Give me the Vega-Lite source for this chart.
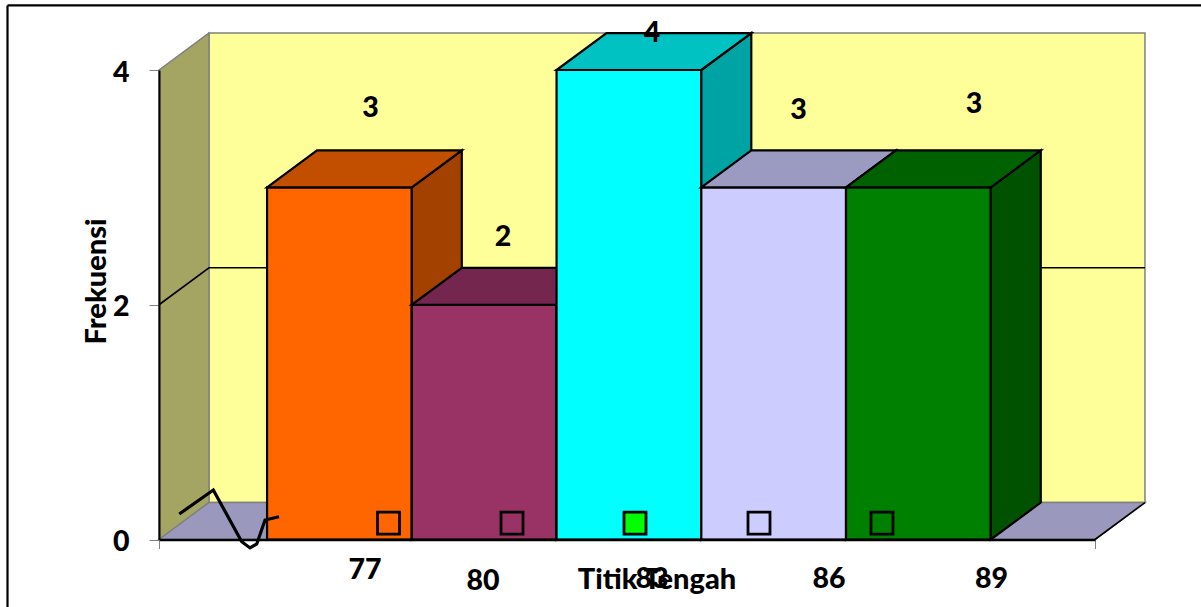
{
  "$schema": "https://vega.github.io/schema/vega-lite/v6.json",
  "width": 936,
  "height": 469.5,
  "autosize": "none",
  "padding": {"left": 159, "top": 70, "right": 106, "bottom": 67.5},
  "background": "white",
  "config": {
    "view": {"stroke": null},
    "text": {"font": "Lato", "fontWeight": 900, "fontSize": 28.5, "color": "black", "baseline": "middle", "dy": 1.5}
  },
  "resolve": {"scale": {"fill": "independent"}},
  "datasets": {
    "kerangka": [
      {"muka": "dinding", "x": 74.296, "y": 4.315, "y2": 0.315},
      {"muka": "dinding", "x": 93.696, "y": 4.315, "y2": 0.315},
      {"muka": "sisi", "x": 73.26, "y": 4, "y2": 0},
      {"muka": "sisi", "x": 74.296, "y": 4.315, "y2": 0.315},
      {"muka": "lantai", "x": 73.26, "y": 0, "y2": 0},
      {"muka": "lantai", "x": 74.296, "y": 0.315, "y2": 0},
      {"muka": "lantai", "x": 92.66, "y": 0.315, "y2": 0},
      {"muka": "lantai", "x": 93.696, "y": 0.315, "y2": 0.315}
    ],
    "garis": [
      {"garis": "kisi", "x": 73.26, "y": 2},
      {"garis": "kisi", "x": 74.296, "y": 2.315},
      {"garis": "kisi", "x": 93.696, "y": 2.315},
      {"garis": "tepi", "x": 92.66, "y": 0},
      {"garis": "tepi", "x": 93.696, "y": 0.315}
    ],
    "batang": [
      {"muka": "77 depan", "x": 75.5, "y": 3, "y2": 0},
      {"muka": "77 depan", "x": 78.5, "y": 3, "y2": 0},
      {"muka": "77 samping", "x": 78.5, "y": 3, "y2": 0},
      {"muka": "77 samping", "x": 79.536, "y": 3.315, "y2": 0.315},
      {"muka": "77 atas", "x": 75.5, "y": 3, "y2": 3},
      {"muka": "77 atas", "x": 76.536, "y": 3.315, "y2": 3},
      {"muka": "77 atas", "x": 78.5, "y": 3.315, "y2": 3},
      {"muka": "77 atas", "x": 79.536, "y": 3.315, "y2": 3.315},

      {"muka": "80 depan", "x": 78.5, "y": 2, "y2": 0},
      {"muka": "80 depan", "x": 81.5, "y": 2, "y2": 0},
      {"muka": "80 samping", "x": 81.5, "y": 2, "y2": 0},
      {"muka": "80 samping", "x": 82.536, "y": 2.315, "y2": 0.315},
      {"muka": "80 atas", "x": 78.5, "y": 2, "y2": 2},
      {"muka": "80 atas", "x": 79.536, "y": 2.315, "y2": 2},
      {"muka": "80 atas", "x": 81.5, "y": 2.315, "y2": 2},
      {"muka": "80 atas", "x": 82.536, "y": 2.315, "y2": 2.315},

      {"muka": "83 depan", "x": 81.5, "y": 4, "y2": 0},
      {"muka": "83 depan", "x": 84.5, "y": 4, "y2": 0},
      {"muka": "83 samping", "x": 84.5, "y": 4, "y2": 0},
      {"muka": "83 samping", "x": 85.536, "y": 4.315, "y2": 0.315},
      {"muka": "83 atas", "x": 81.5, "y": 4, "y2": 4},
      {"muka": "83 atas", "x": 82.536, "y": 4.315, "y2": 4},
      {"muka": "83 atas", "x": 84.5, "y": 4.315, "y2": 4},
      {"muka": "83 atas", "x": 85.536, "y": 4.315, "y2": 4.315},

      {"muka": "86 depan", "x": 84.5, "y": 3, "y2": 0},
      {"muka": "86 depan", "x": 87.5, "y": 3, "y2": 0},
      {"muka": "86 samping", "x": 87.5, "y": 3, "y2": 0},
      {"muka": "86 samping", "x": 88.536, "y": 3.315, "y2": 0.315},
      {"muka": "86 atas", "x": 84.5, "y": 3, "y2": 3},
      {"muka": "86 atas", "x": 85.536, "y": 3.315, "y2": 3},
      {"muka": "86 atas", "x": 87.5, "y": 3.315, "y2": 3},
      {"muka": "86 atas", "x": 88.536, "y": 3.315, "y2": 3.315},

      {"muka": "89 depan", "x": 87.5, "y": 3, "y2": 0},
      {"muka": "89 depan", "x": 90.5, "y": 3, "y2": 0},
      {"muka": "89 samping", "x": 90.5, "y": 3, "y2": 0},
      {"muka": "89 samping", "x": 91.536, "y": 3.315, "y2": 0.315},
      {"muka": "89 atas", "x": 87.5, "y": 3, "y2": 3},
      {"muka": "89 atas", "x": 88.536, "y": 3.315, "y2": 3},
      {"muka": "89 atas", "x": 90.5, "y": 3.315, "y2": 3},
      {"muka": "89 atas", "x": 91.536, "y": 3.315, "y2": 3.315}
    ],
    "tanda": [
      {"tanda": "kosong", "x": 78.017, "y": 0.14},
      {"tanda": "kosong", "x": 80.577, "y": 0.14},
      {"tanda": "hijau", "x": 83.126, "y": 0.14},
      {"tanda": "kosong", "x": 85.696, "y": 0.14},
      {"tanda": "kosong", "x": 88.245, "y": 0.14}
    ],
    "coretan": [
      {"x": 73.68, "y": 0.217},
      {"x": 74.386, "y": 0.422},
      {"x": 74.975, "y": -0.019},
      {"x": 75.147, "y": -0.072},
      {"x": 75.286, "y": -0.038},
      {"x": 75.458, "y": 0.166},
      {"x": 75.748, "y": 0.194}
    ],
    "bingkai": [
      {"x": 70.12, "x2": 70.12, "y": -0.575, "y2": 4.55},
      {"x": 70.12, "x2": 94.86, "y": 4.55, "y2": 4.55}
    ],
    "teks": [
      {"label": "77", "x": 77.53, "y": -0.243},
      {"label": "80", "x": 79.975, "y": -0.337},
      {"label": "83", "x": 83.478, "y": -0.328},
      {"label": "86", "x": 87.146, "y": -0.328},
      {"label": "89", "x": 90.514, "y": -0.328},
      {"label": "3", "x": 77.644, "y": 3.693},
      {"label": "2", "x": 80.39, "y": 2.594},
      {"label": "4", "x": 83.478, "y": 4.324},
      {"label": "3", "x": 86.515, "y": 3.676},
      {"label": "3", "x": 90.152, "y": 3.727}
    ]
  },
  "encoding": {
    "x": {
      "field": "x",
      "type": "quantitative",
      "scale": {"domain": [73.26, 92.66], "nice": false, "zero": false},
      "axis": {
        "values": [73.26, 92.66],
        "labels": false,
        "grid": false,
        "tickSize": 9,
        "tickColor": "#808080",
        "domainColor": "black",
        "domainWidth": 2.5,
        "zindex": 1,
        "title": "Titik Tengah",
        "titleFont": "Lato",
        "titleFontSize": 29,
        "titleFontWeight": 900,
        "titleColor": "black",
        "titleBaseline": "middle",
        "titleX": 497.5,
        "titleY": 39.5
      }
    },
    "y": {
      "field": "y",
      "type": "quantitative",
      "scale": {"domain": [0, 4], "nice": false},
      "axis": {
        "values": [0, 2, 4],
        "grid": false,
        "format": "d",
        "tickSize": 10,
        "tickColor": "#808080",
        "domainColor": "black",
        "domainWidth": 2,
        "labelFont": "Lato",
        "labelFontSize": 28.5,
        "labelFontWeight": 900,
        "labelColor": "black",
        "labelPadding": 20,
        "labelOffset": 2,
        "zindex": 1,
        "title": "Frekuensi",
        "titleFont": "Lato",
        "titleFontSize": 29,
        "titleFontWeight": 900,
        "titleColor": "black",
        "titleBaseline": "middle",
        "titleX": -63,
        "titleY": 211
      }
    }
  },
  "layer": [
    {
      "data": {"name": "kerangka"},
      "mark": {"type": "area", "stroke": "#808080", "strokeWidth": 1.5, "clip": false},
      "encoding": {
        "y2": {"field": "y2"},
        "fill": {
          "field": "muka",
          "type": "nominal",
          "legend": null,
          "sort": null,
          "scale": {
            "domain": ["dinding", "sisi", "lantai"],
            "range": ["#FFFF99", "#A5A563", "#9A99BD"]
          }
        }
      }
    },
    {
      "data": {"name": "garis"},
      "mark": {"type": "line", "color": "black", "strokeWidth": 1.6},
      "encoding": {"detail": {"field": "garis"}}
    },
    {
      "data": {"name": "batang"},
      "mark": {"type": "area", "stroke": "black", "strokeWidth": 2.2, "strokeJoin": "miter"},
      "encoding": {
        "y2": {"field": "y2"},
        "fill": {
          "field": "muka",
          "type": "nominal",
          "legend": null,
          "sort": null,
          "scale": {
            "domain": [
              "77 depan", "77 samping", "77 atas",
              "80 depan", "80 samping", "80 atas",
              "83 depan", "83 samping", "83 atas",
              "86 depan", "86 samping", "86 atas",
              "89 depan", "89 samping", "89 atas"
            ],
            "range": [
              "#FF6600", "#A34200", "#C24E00",
              "#993366", "#622141", "#74264E",
              "#00FFFF", "#00A3A3", "#00C2C2",
              "#CCCCFF", "#8383A3", "#9B9BC2",
              "#008000", "#005200", "#006100"
            ]
          }
        }
      }
    },
    {
      "data": {"name": "tanda"},
      "mark": {"type": "point", "shape": "square", "size": 484, "filled": true, "stroke": "black", "strokeWidth": 2.8, "opacity": 1},
      "encoding": {
        "fill": {
          "field": "tanda",
          "type": "nominal",
          "legend": null,
          "scale": {"domain": ["kosong", "hijau"], "range": ["transparent", "#00FF00"]}
        }
      }
    },
    {
      "data": {"name": "coretan"},
      "mark": {"type": "line", "color": "black", "strokeWidth": 3.2, "interpolate": "linear", "clip": false}
    },
    {
      "data": {"name": "bingkai"},
      "mark": {"type": "rule", "color": "black", "strokeWidth": 2.2},
      "encoding": {"x2": {"field": "x2"}, "y2": {"field": "y2"}}
    },
    {
      "data": {"name": "teks"},
      "mark": {"type": "text"},
      "encoding": {"text": {"field": "label", "type": "nominal"}}
    }
  ]
}
